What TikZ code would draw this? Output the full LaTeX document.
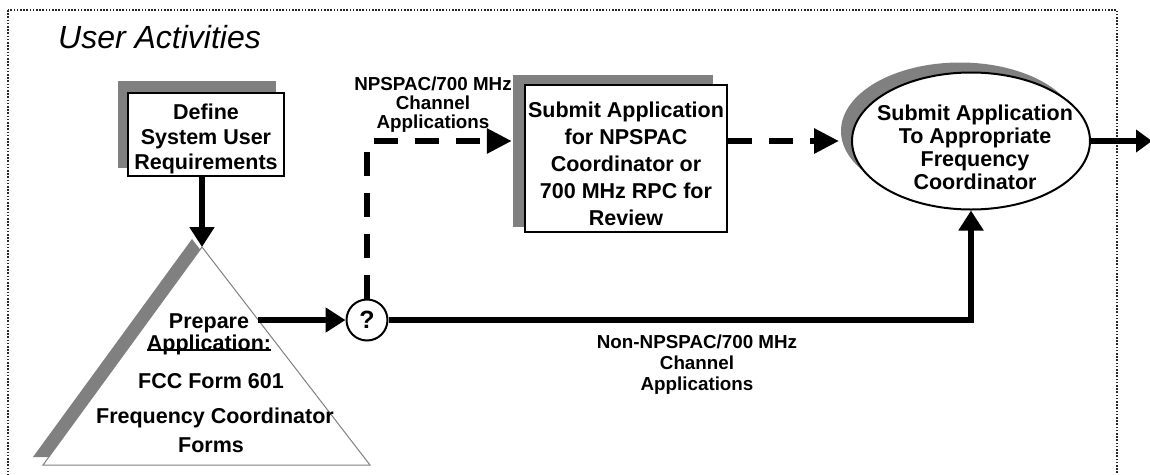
\documentclass[tikz,border=0pt]{standalone}
\usepackage{fontspec}
\setmainfont{Liberation Sans}
\usetikzlibrary{arrows.meta,shapes.geometric,calc}
\definecolor{shadowgray}{HTML}{808080}
\begin{document}
\begin{tikzpicture}[x=1pt,y=-1pt,
  txt/.style={font=\bfseries\fontsize{21.5}{25}\selectfont, align=center, inner sep=0pt},
  lbl/.style={font=\bfseries\fontsize{18.8}{19}\selectfont, align=center, inner sep=0pt},
  box/.style={draw, fill=white, line width=2.5pt, inner sep=0pt},
  shadowbox/.style={fill=shadowgray, inner sep=0pt},
  arr/.style={line width=5.5pt, -{Triangle[length=20pt,width=24pt]}},
  darr/.style={line width=6pt, dash pattern=on 24pt off 17pt, -{Triangle[length=25pt,width=24pt]}},
]
\useasboundingbox (0,0) rectangle (1150,474);
% frame
\draw[black!85, line width=1.4pt, dash pattern=on 1.6pt off 1.6pt] (8,10) rectangle (1117,495);
\node[anchor=base west, inner sep=0pt, font=\itshape\fontsize{32}{32}\selectfont] (title) at (58,48) {User Activities};

% Define box
\node[shadowbox, minimum width=158pt, minimum height=87pt] (defS) at (197,124.5) {};
\node[box, minimum width=156pt, minimum height=83pt] (def) at (206,134.5) {};
\node[txt] (defT) at (206,139) {Define\\System User\\Requirements};

% Triangle
\coordinate (apex) at (202,247);
\coordinate (bl) at (43,465);
\coordinate (br) at (370,465);
\fill[shadowgray] ($(apex)+(-10,-8)$) -- ($(bl)+(-10,-8)$) -- ($(br)+(-10,-8)$) -- cycle;
\filldraw[fill=white, draw=gray, line width=1pt] (apex) -- (br) -- (bl) -- cycle;
\coordinate (trR) at ($(apex)!0.335!(br)$);
\node[txt, anchor=base] (t1) at (209,328) {Prepare};
\node[txt, anchor=base] (t2) at (209,350) {\setbox0\hbox{Application:}\rlap{\rule[-0.6pt]{\wd0}{1.6pt}}\box0};
\node[txt, anchor=base] (t3) at (211,388) {FCC Form 601};
\node[txt, anchor=base] (t4) at (215,423) {Frequency Coordinator};
\node[txt, anchor=base] (t5) at (211,452) {Forms};

% decision circle
\node[circle, draw, line width=2pt, fill=white, minimum size=41pt, inner sep=0pt,
      font=\bfseries\fontsize{25}{25}\selectfont] (q) at (367,320) {?};

% NPSPAC box
\node[shadowbox, minimum width=200pt, minimum height=152pt] (npS) at (613,151) {};
\node[box, minimum width=202pt, minimum height=147pt] (npbox) at (626,158.5) {};
\node[txt, font=\bfseries\fontsize{21.5}{27}\selectfont] (npT) at (626,164) {Submit Application\\for NPSPAC\\Coordinator or\\700 MHz RPC for\\Review};

% Ellipse
\node[ellipse, fill=shadowgray, minimum width=238pt, minimum height=137pt, inner sep=0pt] (ellS) at (960,131) {};
\node[ellipse, draw, line width=2pt, fill=white, minimum width=238pt, minimum height=137pt, inner sep=0pt] (ell) at (971,141) {};
\node[txt, font=\bfseries\fontsize{21.5}{23}\selectfont] (ellT) at (975,147) {Submit Application\\To Appropriate\\Frequency\\Coordinator};

\coordinate (npin) at ($(npbox.west)+(-12,0)$);
\coordinate (ellin) at ($(ell.west)+(-12,0)$);
\coordinate (out) at (1152,141);

% connectors
\draw[arr] (def.south -| apex) -- (apex);
\draw[arr] (trR) -- (trR -| q.west);
\draw[arr] (q.east) -| (ell.south);
\draw[darr] (q.north) |- (npin |- ell.west);
\draw[darr] (npbox.east |- ell.west) -- (ellin);
\draw[arr, -{Triangle[length=16pt,width=22pt]}] (ell.east) -- (out);

% labels
\node[lbl] (lab1) at (433,105) {NPSPAC/700 MHz\\Channel\\Applications};
\node[lbl, font=\bfseries\fontsize{18.8}{21}\selectfont] (lab2) at (697,365) {Non-NPSPAC/700 MHz\\Channel\\Applications};
\end{tikzpicture}
\end{document}
